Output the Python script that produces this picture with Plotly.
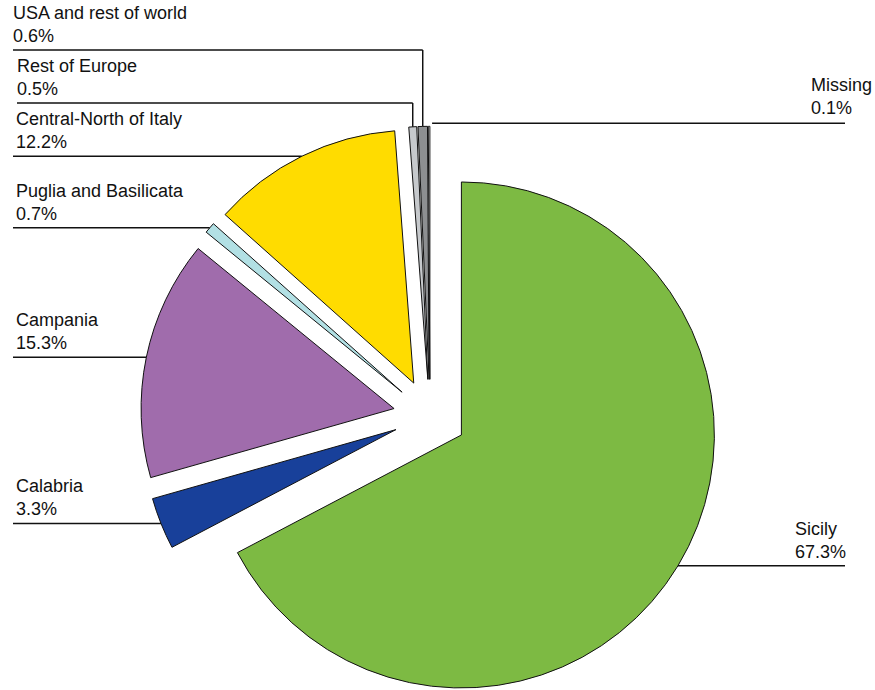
import math
import plotly.graph_objects as go

# ---- data ----
regions = ["Sicily", "Calabria", "Campania", "Puglia and Basilicata",
           "Central-North of Italy", "Rest of Europe", "USA and rest of world", "Missing"]
shares = [67.3, 3.3, 15.3, 0.7, 12.2, 0.5, 0.6, 0.1]
colors = ["#7dba43", "#18409a", "#a06cac", "#b2e0e4",
          "#ffdc00", "#c6c9cc", "#8d8f91", "#ffffff"]

W, H = 875, 690
R = 253.0                  # pie radius (px)
PULL = 0.145               # explode fraction of radius
CX, CY = 430.0, 416.0      # un-exploded pie centre (px)

total = sum(shares)
mids = []
cum = 0.0
for v in shares:
    mids.append(math.radians(360.0 * (cum + v / 2) / total))
    cum += v

fig = go.Figure()
# each exploded slice is drawn by its own pie trace, centred on its exploded centre
for k in range(len(shares)):
    th = mids[k]
    sx = CX + PULL * R * math.sin(th)
    sy = CY - PULL * R * math.cos(th)
    cols = [colors[i] if i == k else "rgba(0,0,0,0)" for i in range(len(shares))]
    lw = [1 if i == k else 0 for i in range(len(shares))]
    fig.add_trace(go.Pie(
        labels=regions, values=shares, sort=False, direction="clockwise", rotation=0,
        marker=dict(colors=cols, line=dict(color="#111111", width=lw)),
        textinfo="none", hoverinfo="label+percent", showlegend=False,
        domain=dict(x=[(sx - R) / W, (sx + R) / W],
                    y=[(H - sy - R) / H, (H - sy + R) / H]),
    ))

def px(x):
    return x / W

def py(y):
    return 1 - y / H

# anchor point of each slice on its outer arc (mid angle)
anchors = [(CX + (1 + PULL) * R * math.sin(t), CY - (1 + PULL) * R * math.cos(t)) for t in mids]

shapes = []
annots = []
font = dict(family="Arial, Liberation Sans, sans-serif", size=18, color="#111111")

def line(x0, y0, x1, y1):
    shapes.append(dict(type="line", xref="paper", yref="paper",
                       x0=px(x0), y0=py(y0), x1=px(x1), y1=py(y1),
                       line=dict(color="#111111", width=1.5)))

def label(i, x, ybottom):
    annots.append(dict(text=f"{regions[i]}<br>{shares[i]:.1f}%", xref="paper", yref="paper",
                       x=px(x), y=py(ybottom), xanchor="left", yanchor="bottom",
                       align="left", showarrow=False, font=font))

# left-side labels with horizontal leaders
for i in [1, 2, 3, 4]:
    ax, ay = anchors[i]
    line(13, ay, ax, ay)
    label(i, 14, ay - 2)

# top small slices: vertical then horizontal
for i, ylev, xl in [(6, 50, 13), (5, 103, 17)]:
    ax, ay = anchors[i]
    line(ax, ay, ax, ylev)
    line(ax, ylev, xl, ylev)
    label(i, xl - 2, ylev - 2)

# right side
ax, ay = anchors[7]
line(ax + 3, ay - 3, 845, ay - 3)
label(7, 809, ay - 6)
ax, ay = anchors[0]
line(ax, ay, 845, ay)
label(0, 793, ay - 2)

fig.update_layout(width=W, height=H, margin=dict(l=0, r=0, t=0, b=0),
                  paper_bgcolor="white", plot_bgcolor="white",
                  shapes=shapes, annotations=annots)
fig.write_html("out.html")
